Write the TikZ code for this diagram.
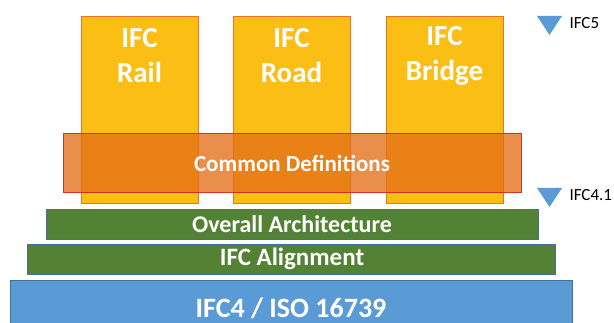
\documentclass[tikz,border=0pt]{standalone}
\usepackage{fontspec}
\setmainfont{Carlito}
\usetikzlibrary{calc}

\definecolor{ifcyellow}{RGB}{251,190,20}
\definecolor{ifcedge}{RGB}{236,112,40}
\definecolor{ifcorange}{RGB}{228,112,24}
\definecolor{ifcred}{RGB}{214,50,40}
\definecolor{ifcgreen}{RGB}{84,130,53}
\definecolor{ifcblue}{RGB}{91,155,213}
\definecolor{ifcline}{RGB}{65,113,156}

\tikzset{
  layertext/.style={white,font=\bfseries\fontsize{#1}{35}\selectfont,align=center},
  release/.style={anchor=west,font=\fontsize{17}{20}\selectfont}
}

\begin{document}
\begin{tikzpicture}[x=1pt,y=-1pt]
                \useasboundingbox (0,0) rectangle (614,323);
                % domain extensions
                \foreach \n/\x/\t in {rail/81/Rail,road/233/Road,bridge/386/Bridge}
                {
                \draw[fill=ifcyellow,draw=ifcedge,line width=0.8pt] (\x,16) rectangle ++(117,187);
                \node[layertext=29] (\n) at ($(\x,56)+(58.5,0)$) {IFC\\\t};
                }
                
                \draw[fill=ifcorange,fill opacity=0.78,draw=ifcred,line width=0.8pt] (63,133) rectangle (521,192);
                \node[layertext=23] (common) at (292,164) {Common Definitions};
                
                % base layers
                \draw[fill=ifcgreen,draw=ifcline,line width=0.8pt] (46,209) rectangle (538,239);
                \node[layertext=24] (arch) at (292,224) {Overall Architecture};
                \draw[fill=ifcgreen,draw=ifcline,line width=0.8pt] (27,244) rectangle (555,274);
                \node[layertext=25] (align) at (292,259) {IFC Alignment};
                \draw[fill=ifcblue,draw=ifcline,line width=0.8pt] (10,280) rectangle (572,324);
                \node[layertext=28] (ifc4) at (291,308) {IFC4 / ISO 16739};
                
                % release markers
                \foreach \n/\y/\t in {ifcfive/16/IFC5,ifcfour/188/IFC4.1}
                {
                \fill[ifcblue] (537,\y) -- ++(25,0) -- ++(-12.5,19) -- cycle;
                \node[release] (\n) at (566,\y+7) {\t};
                }
                
\end{tikzpicture}
\end{document}
